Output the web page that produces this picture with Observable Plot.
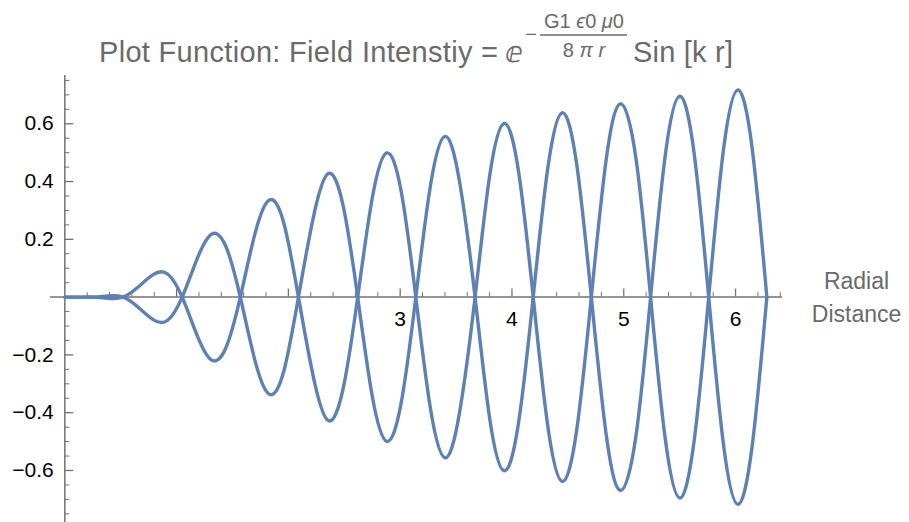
<!DOCTYPE html>
<html>
<head>
<meta charset="utf-8">
<script src="https://cdn.jsdelivr.net/npm/d3@7"></script>
<script src="https://cdn.jsdelivr.net/npm/@observablehq/plot@0.6"></script>
<style>
  html, body { margin: 0; padding: 0; background: #fff; }
  #wrap { position: relative; width: 909px; height: 522px; overflow: hidden; }
  #title { position: absolute; left: 0; top: 0; }
  #chart { position: absolute; left: 0; top: 0; }
</style>
</head>
<body>
<div id="wrap">
  <div id="chart"></div>
  <svg id="title" width="909" height="75" xmlns="http://www.w3.org/2000/svg"
       font-family="'Liberation Sans', Arial, 'DejaVu Sans', sans-serif" fill="#6a6a6a">
    <text x="99" y="62" font-size="29" textLength="399" lengthAdjust="spacing">Plot Function: Field Intenstiy =</text>
    <text x="505" y="62" font-size="29" font-family="'DejaVu Sans', sans-serif" font-style="italic">ⅇ</text>
    <text x="531" y="41" font-size="20" text-anchor="middle">−</text>
    <text x="584" y="28" font-size="20" text-anchor="middle">G1 <tspan font-style="italic">ϵ</tspan>0 <tspan font-style="italic">μ</tspan>0</text>
    <line x1="540" x2="627" y1="35" y2="35" stroke="#6a6a6a" stroke-width="1.4"></line>
    <text x="584" y="56.5" font-size="20" text-anchor="middle">8 <tspan font-style="italic">π</tspan> <tspan font-style="italic">r</tspan></text>
    <text x="633" y="62" font-size="29" textLength="100" lengthAdjust="spacing">Sin [k r]</text>
  </svg>
</div>
<script>
// Radial distance samples
const radius = [0, 0.13, 0.26, 0.39, 0.52, 0.65, 0.79, 0.92, 1.05, 1.18, 1.31, 1.44,
  1.57, 1.70, 1.83, 1.96, 2.09, 2.23, 2.36, 2.49, 2.62, 2.75, 2.88, 3.01,
  3.14, 3.27, 3.40, 3.53, 3.67, 3.80, 3.93, 4.06, 4.19, 4.32, 4.45, 4.58,
  4.71, 4.84, 4.97, 5.11, 5.24, 5.37, 5.50, 5.63, 5.76, 5.89, 6.02, 6.15, 6.28];

// Upper curve values
const upperCurve = [0, 0, 0, 0.004, 0, -0.033, -0.078, -0.080, 0, 0.129, 0.217, 0.176,
  0, -0.218, -0.336, -0.255, 0, 0.288, 0.428, 0.316, 0, -0.342, -0.499, -0.364,
  0, 0.384, 0.556, 0.402, 0, -0.418, -0.601, -0.432, 0, 0.445, 0.638, 0.457,
  0, -0.468, -0.669, -0.478, 0, 0.487, 0.695, 0.496, 0, -0.504, -0.717, -0.511, 0];

// Lower (mirror) curve values
const lowerCurve = [0, 0, 0, -0.004, 0, 0.033, 0.078, 0.080, 0, -0.129, -0.217, -0.176,
  0, 0.218, 0.336, 0.255, 0, -0.288, -0.428, -0.316, 0, 0.342, 0.499, 0.364,
  0, -0.384, -0.556, -0.402, 0, 0.418, 0.601, 0.432, 0, -0.445, -0.638, -0.457,
  0, 0.468, 0.669, 0.478, 0, -0.487, -0.695, -0.496, 0, 0.504, 0.717, 0.511, 0];

// Ticks and labels
const xTickMajor = [1, 2, 3, 4, 5, 6];
const xTickLabels = [3, 4, 5, 6];
const xTickMinor = d3.range(1, 33).map(i => i * 0.2).filter(v => Math.abs(v - Math.round(v)) > 1e-6);
const yTickMajor = [-0.6, -0.4, -0.2, 0.2, 0.4, 0.6];
const yTickMinor = d3.range(-15, 16).map(i => i * 0.05).filter(v => Math.abs(v / 0.2 - Math.round(v / 0.2)) > 1e-6);
const axisLabel = ["Radial\nDistance"];

const W = 909, H = 522;
const mL = 50, mR = 127, mT = 75, mB = 0;
const xDomain = [-0.128, 6.42];
const yDomain = [-0.78, 0.767];
const pxX = (W - mL - mR) / (xDomain[1] - xDomain[0]);
const pxY = (H - mT - mB) / (yDomain[1] - yDomain[0]);

const upperData = radius.map((r, i) => ({r, v: upperCurve[i]}));
const lowerData = radius.map((r, i) => ({r, v: lowerCurve[i]}));

const axisColor = "#727272";
const lineColor = "#5E81B5";
const fmt = d3.format(".1f");

const chart = Plot.plot({
  width: W, height: H,
  marginLeft: mL, marginRight: mR, marginTop: mT, marginBottom: mB,
  style: {fontFamily: "'Liberation Sans', Arial, sans-serif", background: "transparent", overflow: "visible"},
  x: {domain: xDomain, axis: null},
  y: {domain: yDomain, axis: null},
  marks: [
    Plot.ruleY([0], {stroke: axisColor, strokeWidth: 1.5}),
    Plot.ruleX([0], {stroke: axisColor, strokeWidth: 1.5}),
    Plot.ruleX(xTickMajor, {x: d => d, y1: 0, y2: 8 / pxY, stroke: axisColor, strokeWidth: 1.3}),
    Plot.ruleX(xTickMinor, {x: d => d, y1: 0, y2: 4.5 / pxY, stroke: axisColor, strokeWidth: 1}),
    Plot.ruleY(yTickMajor, {y: d => d, x1: 0, x2: 9 / pxX, stroke: axisColor, strokeWidth: 1.3}),
    Plot.ruleY(yTickMinor, {y: d => d, x1: 0, x2: 5 / pxX, stroke: axisColor, strokeWidth: 1}),
    Plot.line(upperData, {x: "r", y: "v", curve: "natural", stroke: lineColor, strokeWidth: 3.4}),
    Plot.line(lowerData, {x: "r", y: "v", curve: "natural", stroke: lineColor, strokeWidth: 3.4}),
    Plot.text(yTickMajor, {x: 0, y: d => d, dx: -11, textAnchor: "end", text: d => fmt(d), fontSize: 21, fill: "#000"}),
    Plot.text(xTickLabels, {x: d => d, y: 0, dy: 22, text: d => String(d), fontSize: 21, fill: "#000"}),
    Plot.text(axisLabel, {x: xDomain[1], y: 0, dx: 74, dy: -2, text: d => d, fontSize: 23, fill: "#6a6a6a", lineHeight: 1.4, lineAnchor: "middle", textAnchor: "middle"})
  ]
});
document.getElementById("chart").appendChild(chart);
</script>
</body>
</html>
